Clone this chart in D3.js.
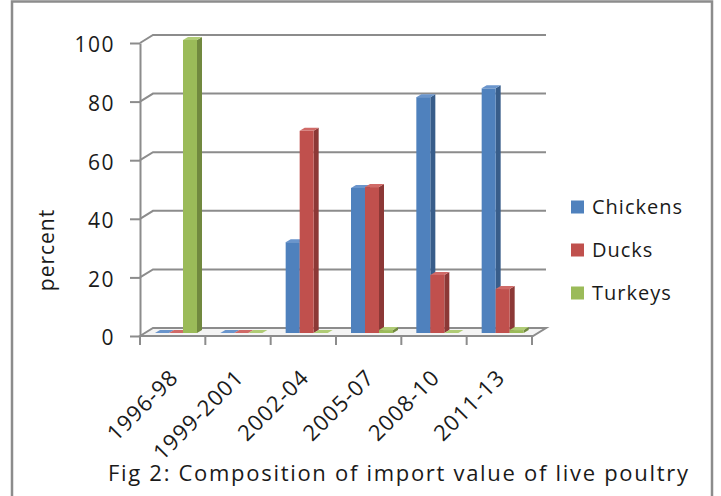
<!DOCTYPE html>
<html>
<head>
<meta charset="utf-8">
<script src="https://cdn.jsdelivr.net/npm/d3@7"></script>
<style>
  body { margin: 0; background: #fff; }
  text { font-family: "Open Sans", sans-serif; fill: #1a1a1a; }
</style>
</head>
<body>
<div id="chart"></div>
<script>
// data
const periods = ["1996-98", "1999-2001", "2002-04", "2005-07", "2008-10", "2011-13"];
const seriesNames = ["Chickens", "Ducks", "Turkeys"];
const chickens = [0, 0, 31, 49.5, 80.5, 83.5];
const ducks = [0, 0, 69, 49.8, 19.8, 15];
const turkeys = [100, 0, 0, 1, 0, 1];
const yTicks = [0, 20, 40, 60, 80, 100];

const width = 721, height = 496;
const colors = {
    front: ["#4f81bd", "#c0504d", "#9bbb59"],
    side: ["#385d8a", "#8c3836", "#71893f"],
    top: ["#6a95cc", "#d06a67", "#b0cc76"],
    grid: "#8c8c8c"
};
const depth = { dx: 13, dy: -8 };   // wall depth
const barDepth = { dx: 5, dy: -3 }; // bar depth

const svg = d3.select("#chart").append("svg")
    .attr("width", width)
    .attr("height", height);

// outer border
svg.append("rect")
    .attr("x", 12).attr("y", 1.5)
    .attr("width", 700).attr("height", 520)
    .attr("fill", "none")
    .attr("stroke", "#8c8c8c")
    .attr("stroke-width", 2.5);

// scales
const x = d3.scaleBand().domain(periods).range([140, 532]);
const y = d3.scaleLinear().domain([0, 100]).range([336, 43]);
const inner = d3.scaleBand().domain(seriesNames).range([15, 57]);

// floor
const x0 = x.range()[0], x1 = x.range()[1];
svg.append("path")
    .attr("d", `M${x0},${y(0)} L${x0 + depth.dx},${y(0) + depth.dy} L${x1 + depth.dx + 1},${y(0) + depth.dy} L${x1 + 1},${y(0)} Z`)
    .attr("fill", "#f4f4f4")
    .attr("stroke", colors.grid)
    .attr("stroke-width", 2);

// gridlines on back wall
svg.selectAll(".grid")
    .data(yTicks.filter(d => d > 0))
    .join("path")
    .attr("d", d => `M${x0},${y(d)} L${x0 + depth.dx},${y(d) + depth.dy} L${x1 + depth.dx + 1},${y(d) + depth.dy}`)
    .attr("fill", "none")
    .attr("stroke", colors.grid)
    .attr("stroke-width", 2);

// y axis
const yAxis = svg.append("g")
    .attr("transform", `translate(${x0},0)`)
    .call(d3.axisLeft(y).tickValues(yTicks).tickSize(10).tickSizeOuter(0).tickPadding(15));
yAxis.select(".domain").attr("stroke", colors.grid).attr("stroke-width", 2);
yAxis.selectAll(".tick line").attr("stroke", colors.grid).attr("stroke-width", 2);
yAxis.selectAll(".tick text")
    .attr("dy", "0.42em")
    .style("font-size", "21px")
    .style("letter-spacing", "1.5px")
    .attr("fill", "#1a1a1a");

// category ticks on the front edge of the floor
const boundaries = d3.range(periods.length + 1).map(i => x0 + i * x.step());
svg.selectAll(".xtick")
    .data(boundaries)
    .join("line")
    .attr("x1", d => d).attr("x2", d => d)
    .attr("y1", y(0)).attr("y2", y(0) + 9)
    .attr("stroke", colors.grid)
    .attr("stroke-width", 2);

svg.selectAll(".xlabel")
    .data(periods)
    .join("text")
    .attr("text-anchor", "end")
    .attr("transform", d => `translate(${x(d) + x.bandwidth() / 2 + 7},${y(0) + 43}) rotate(-45)`)
    .style("font-size", "22px")
    .style("letter-spacing", "1px")
    .text(d => d);

// bars
const values = [chickens, ducks, turkeys];
const bars = [];
periods.forEach((p, i) => {
    seriesNames.forEach((s, j) => {
        bars.push({ period: p, series: j, value: values[j][i] });
    });
});

const base = y(0) - 3;
const barW = inner.bandwidth();
const g = svg.append("g");
bars.forEach(d => {
    const bx = x(d.period) + inner(seriesNames[d.series]);
    const top = y(d.value) - 3;
    // side
    g.append("path")
        .attr("d", `M${bx + barW},${top} L${bx + barW + barDepth.dx},${top + barDepth.dy} L${bx + barW + barDepth.dx},${base + barDepth.dy} L${bx + barW},${base} Z`)
        .attr("fill", colors.side[d.series]);
    // front
    g.append("rect")
        .attr("x", bx).attr("y", top)
        .attr("width", barW).attr("height", base - top)
        .attr("fill", colors.front[d.series]);
    // top
    g.append("path")
        .attr("d", `M${bx},${top} L${bx + barDepth.dx},${top + barDepth.dy} L${bx + barW + barDepth.dx},${top + barDepth.dy} L${bx + barW},${top} Z`)
        .attr("fill", colors.top[d.series]);
});

// y axis title
svg.append("text")
    .attr("text-anchor", "middle")
    .attr("transform", `translate(54,250) rotate(-90)`)
    .style("font-size", "21px")
    .style("letter-spacing", "1px")
    .text("percent");

// legend
const legend = svg.selectAll(".legend")
    .data(seriesNames)
    .join("g")
    .attr("transform", (d, i) => `translate(571,${207 + i * 43})`);
legend.append("rect")
    .attr("x", 0).attr("y", -6.5)
    .attr("width", 13).attr("height", 13)
    .attr("fill", (d, i) => colors.front[i]);
legend.append("text")
    .attr("x", 21).attr("y", 7)
    .style("font-size", "20px")
    .style("letter-spacing", "1px")
    .text(d => d);

// caption
svg.append("text")
    .attr("x", 108).attr("y", 481)
    .style("font-size", "22px")
    .style("letter-spacing", "1.7px")
    .text("Fig 2: Composition of import value of live poultry");
</script>
</body>
</html>
